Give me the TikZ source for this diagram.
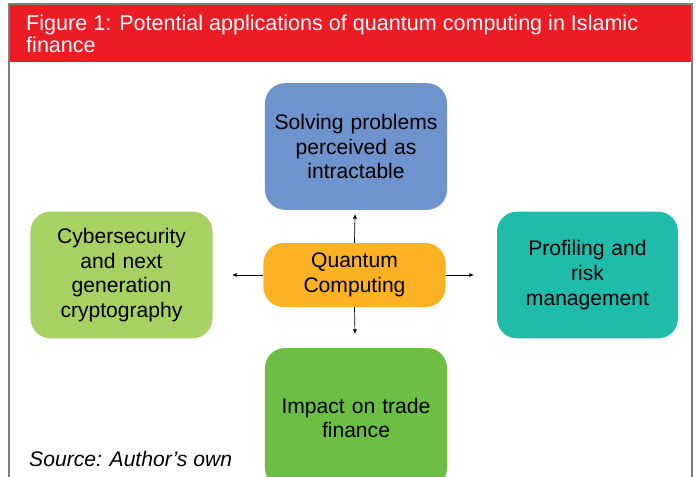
\documentclass[tikz,border=0pt]{standalone}
\usepackage{fontspec}
\setmainfont{Liberation Sans}
\usetikzlibrary{positioning,arrows.meta}
\definecolor{headred}{HTML}{EC1C24}
\definecolor{frameg}{HTML}{7F7F7F}
\definecolor{solveblue}{HTML}{6F93CC}
\definecolor{quantorange}{HTML}{FBB124}
\definecolor{cyberlime}{HTML}{A8D163}
\definecolor{riskteal}{HTML}{1FBCAB}
\definecolor{tradegreen}{HTML}{6DBE45}
\tikzset{
  appbox/.style={rounded corners=0.6cm, minimum width=5.46cm, minimum height=3.8cm,
    align=center, text width=5.2cm, inner sep=0pt,
    font=\fontsize{18}{21}\selectfont},
  headtext/.style={anchor=base west, text=white, inner sep=0pt,
    font=\fontsize{18.4}{20.5}\selectfont},
  link/.style={-{Latex[length=4pt,width=3.5pt]}, line width=0.6pt}
}
\begin{document}
\begin{tikzpicture}[x=0.03cm,y=-0.03cm]
  \useasboundingbox (0,0) rectangle (696,477);
  \clip (0,0) rectangle (696,477);
  % frame and heading
  \fill[headred] (10,5) rectangle (691,62);
  \draw[frameg,line width=1.3pt] (9,480) -- (9,4) -- (692,4) -- (692,480);
  \node[headtext] (title) at (26,30) {Figure 1: Potential applications of quantum computing in Islamic};
  \node[headtext] (title2) at (26,53) {finance};
  % boxes
  \node[appbox,fill=solveblue] (solve) at (356,146.5) {Solving problems\\perceived as\\intractable};
  \node[appbox,fill=quantorange,minimum height=1.92cm] (quantum) at (354.5,275) {Quantum\\Computing};
  \node[appbox,fill=cyberlime] (cyber) at (121.5,275) {Cybersecurity\\and next\\generation\\cryptography};
  \node[appbox,fill=riskteal,minimum width=5.43cm] (risk) at (587.5,275) {Profiling and\\risk\\management};
  \node[appbox,fill=tradegreen,minimum height=4.2cm] (trade) at (356,418) {Impact on trade\\finance};
  % arrows
  \coordinate (up) at (355,214);
  \coordinate (down) at (355,334);
  \coordinate (left) at (232,275);
  \coordinate (right) at (474,275);
  \draw[link] (quantum.north) -- (up);
  \draw[link] (quantum.south) -- (down);
  \draw[link] (quantum.west) -- (left);
  \draw[link] (quantum.east) -- (right);
  % source
  \node[anchor=base west,inner sep=0pt,font=\fontsize{18}{21}\selectfont\itshape] (source) at (29,466) {Source: Author’s own};
\end{tikzpicture}
\end{document}
